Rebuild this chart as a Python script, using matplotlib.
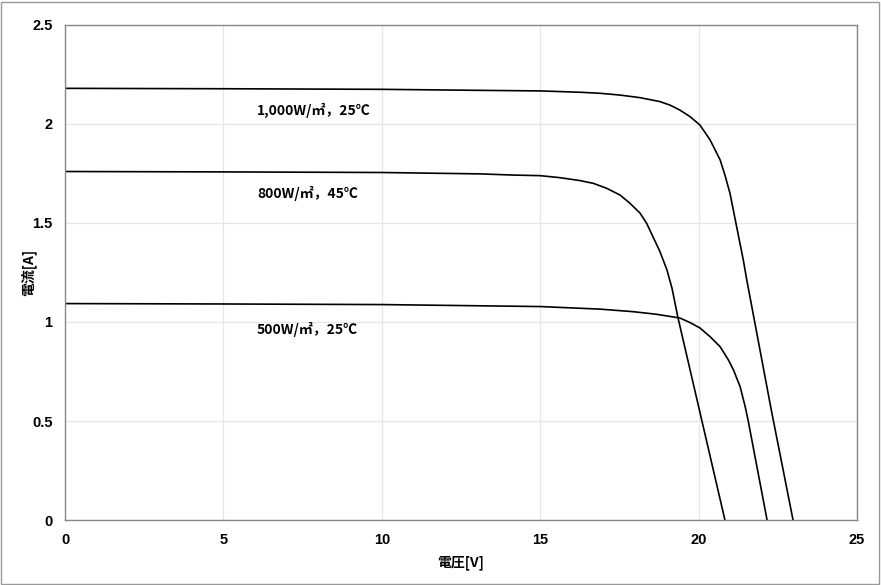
import matplotlib
matplotlib.use("Agg")
import matplotlib.pyplot as plt
from matplotlib.patches import Rectangle

plt.rcParams['font.family'] = ['Noto Sans CJK JP', 'DejaVu Sans']

# I-V curves
v_1000 = [0, 5, 10, 13, 15, 16.3, 16.89, 17.52, 18.15, 18.78, 19.1, 19.41, 19.73,
          20.04, 20.36, 20.68, 20.83, 20.99, 21.2, 21.41, 21.52, 22.3, 22.98]
i_1000 = [2.18, 2.178, 2.175, 2.17, 2.167, 2.16, 2.155, 2.146, 2.133, 2.113, 2.095,
          2.07, 2.037, 1.995, 1.92, 1.818, 1.742, 1.65, 1.481, 1.313, 1.212, 0.55, 0]

v_800 = [0, 5, 10, 13.1, 14.15, 15.0, 15.62, 16.26, 16.68, 17.1, 17.52, 17.83, 18.15,
         18.36, 18.56, 18.78, 19.0, 19.16, 19.35, 20.83]
i_800 = [1.76, 1.758, 1.755, 1.748, 1.742, 1.739, 1.729, 1.714, 1.700, 1.675, 1.641,
         1.6, 1.55, 1.498, 1.43, 1.355, 1.263, 1.17, 1.02, 0]

v_500 = [0, 5, 10, 15, 16.89, 17.94, 18.67, 19.41, 19.73, 20.04, 20.36, 20.68, 20.94,
         21.1, 21.31, 21.47, 21.56, 22.16]
i_500 = [1.093, 1.091, 1.088, 1.078, 1.065, 1.052, 1.039, 1.02, 0.997, 0.97, 0.926,
         0.875, 0.808, 0.758, 0.673, 0.572, 0.505, 0]

labels = ["1,000W/㎡，25℃", "800W/㎡，45℃", "500W/㎡，25℃"]
label_pos = [(6.06, 2.07), (6.06, 1.65), (6.06, 0.96)]

fig = plt.figure(figsize=(8.81, 5.85), dpi=100)
ax = fig.add_axes([0.0738, 0.1111, 0.8990, 0.8462])

for v, i in [(v_1000, i_1000), (v_800, i_800), (v_500, i_500)]:
    ax.plot(v, i, color="black", lw=1.2)

for txt, (x, y) in zip(labels, label_pos):
    ax.text(x, y, txt, fontsize=10, ha="left", va="center", fontweight="bold")

ax.set_xlim(0, 25)
ax.set_ylim(0, 2.5)
ax.set_xticks([0, 5, 10, 15, 20, 25])
ax.set_yticks([0, 0.5, 1, 1.5, 2, 2.5])
ax.set_yticklabels(["0", "0.5", "1", "1.5", "2", "2.5"])
ax.grid(True, color="#e6e6e6", lw=0.9)
ax.set_axisbelow(True)
ax.tick_params(length=0, labelsize=10.5, pad=9)
for lab in ax.get_xticklabels() + ax.get_yticklabels():
    lab.set_family(['Liberation Sans', 'DejaVu Sans'])
    lab.set_fontweight("bold")
for s in ax.spines.values():
    s.set_color("#888888")
    s.set_linewidth(1.0)

ax.set_xlabel("電圧[V]", fontsize=10, fontweight="bold", labelpad=6)
ax.set_ylabel("電流[A]", fontsize=10, fontweight="bold")
ax.yaxis.set_label_coords(-0.036, 0.5)

fig.patches.append(Rectangle((0.001, 0.002), 0.997, 0.995, transform=fig.transFigure,
                             fill=False, edgecolor="#999999", lw=1.0))

fig.savefig("out.png", dpi=100)
